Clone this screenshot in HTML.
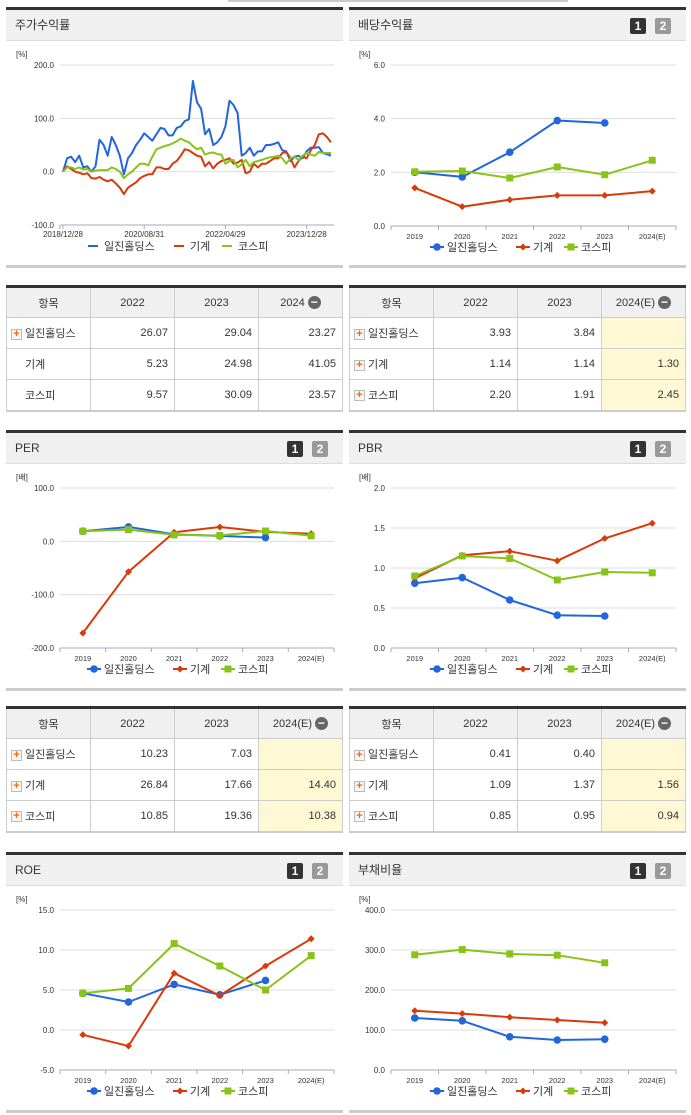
<!DOCTYPE html>
<html><head><meta charset="utf-8">
<style>
*{box-sizing:border-box;margin:0;padding:0}
body{width:691px;height:1115px;background:#fff;position:relative;overflow:hidden;font-family:"Liberation Sans","Noto Sans CJK KR",sans-serif;color:#333}
.panel{position:absolute;width:337px;height:261px;border-top:3px solid #333;border-bottom:3px solid #ccc}
.ph{height:31px;background:#f0f0f0;border-bottom:1px solid #ddd;font-size:12px;line-height:30px;padding-left:9px;color:#333}
.b1,.b2{position:absolute;top:8px;width:16px;height:16px;font-size:12px;font-weight:bold;color:#fff;text-align:center;line-height:16px;border-radius:2px}
.b1{right:40px;background:#333}.b2{right:15px;background:#999}
svg.ch{position:absolute;left:0;top:32px}
table{position:absolute;width:337px;border-collapse:collapse;border-top:3px solid #333;border-bottom:2px solid #ccc;font-size:11px}
td,th{border:1px solid #ccc;height:31px;font-weight:normal;vertical-align:middle}
th{background:#f0f0f0;text-align:center}
td{text-align:right;padding-right:6px}
td.n{text-align:left;padding-left:4px}
th.y{background:#f0f0f0}
td.y{background:#fef9d4}
.pl{display:inline-block;width:11px;height:11px;border:1px solid #bbb;background:#f6f6f6;color:#f60;font-size:11px;line-height:9px;text-align:center;vertical-align:middle;margin-right:3px;font-weight:bold}
.hw{display:inline-flex;align-items:center;gap:3px}
.mi{display:inline-block;width:13px;height:13px;border-radius:50%;background:#666;color:#fff;font-size:12px;line-height:12px;text-align:center;font-weight:bold}
</style></head><body>
<div style="position:absolute;left:228px;top:0;width:340px;height:2px;background:#ccc"></div>

<div class="panel" style="left:6px;top:7px"><div class="ph">주가수익률</div><svg class="ch" id="c0" width="337" height="226"></svg></div>
<div class="panel" style="left:349px;top:7px"><div class="ph">배당수익률</div><div class="b1">1</div><div class="b2">2</div><svg class="ch" id="c1" width="337" height="226"></svg></div>

<table style="left:6px;top:285px">
<tr><th style="width:84px">항목</th><th style="width:84px">2022</th><th style="width:84px">2023</th><th><span class="hw">2024<span class="mi">−</span></span></th></tr>
<tr><td class="n"><span class="pl">+</span>일진홀딩스</td><td>26.07</td><td>29.04</td><td>23.27</td></tr>
<tr><td class="n" style="padding-left:18px">기계</td><td>5.23</td><td>24.98</td><td>41.05</td></tr>
<tr><td class="n" style="padding-left:18px">코스피</td><td>9.57</td><td>30.09</td><td>23.57</td></tr>
</table>
<table style="left:349px;top:285px">
<tr><th style="width:84px">항목</th><th style="width:84px">2022</th><th style="width:84px">2023</th><th class="y"><span class="hw">2024(E)<span class="mi">−</span></span></th></tr>
<tr><td class="n"><span class="pl">+</span>일진홀딩스</td><td>3.93</td><td>3.84</td><td class="y"></td></tr>
<tr><td class="n"><span class="pl">+</span>기계</td><td>1.14</td><td>1.14</td><td class="y">1.30</td></tr>
<tr><td class="n"><span class="pl">+</span>코스피</td><td>2.20</td><td>1.91</td><td class="y">2.45</td></tr>
</table>

<div class="panel" style="left:6px;top:430px"><div class="ph">PER</div><div class="b1">1</div><div class="b2">2</div><svg class="ch" id="c2" width="337" height="226"></svg></div>
<div class="panel" style="left:349px;top:430px"><div class="ph">PBR</div><div class="b1">1</div><div class="b2">2</div><svg class="ch" id="c3" width="337" height="226"></svg></div>

<table style="left:6px;top:706px">
<tr><th style="width:84px">항목</th><th style="width:84px">2022</th><th style="width:84px">2023</th><th class="y"><span class="hw">2024(E)<span class="mi">−</span></span></th></tr>
<tr><td class="n"><span class="pl">+</span>일진홀딩스</td><td>10.23</td><td>7.03</td><td class="y"></td></tr>
<tr><td class="n"><span class="pl">+</span>기계</td><td>26.84</td><td>17.66</td><td class="y">14.40</td></tr>
<tr><td class="n"><span class="pl">+</span>코스피</td><td>10.85</td><td>19.36</td><td class="y">10.38</td></tr>
</table>
<table style="left:349px;top:706px">
<tr><th style="width:84px">항목</th><th style="width:84px">2022</th><th style="width:84px">2023</th><th class="y"><span class="hw">2024(E)<span class="mi">−</span></span></th></tr>
<tr><td class="n"><span class="pl">+</span>일진홀딩스</td><td>0.41</td><td>0.40</td><td class="y"></td></tr>
<tr><td class="n"><span class="pl">+</span>기계</td><td>1.09</td><td>1.37</td><td class="y">1.56</td></tr>
<tr><td class="n"><span class="pl">+</span>코스피</td><td>0.85</td><td>0.95</td><td class="y">0.94</td></tr>
</table>

<div class="panel" style="left:6px;top:852px"><div class="ph">ROE</div><div class="b1">1</div><div class="b2">2</div><svg class="ch" id="c4" width="337" height="226"></svg></div>
<div class="panel" style="left:349px;top:852px"><div class="ph">부채비율</div><div class="b1">1</div><div class="b2">2</div><svg class="ch" id="c5" width="337" height="226"></svg></div>

<script>
const seriesNames=["일진홀딩스","기계","코스피"];
const years=["2019","2020","2021","2022","2023","2024(E)"];
const retTicks=["2018/12/28","2020/08/31","2022/04/29","2023/12/28"];
const retTickIdx=[0,20,40,60];
const retIljin=[0,25,28,18,30,8,10,0,10,60,50,30,65,50,30,-5,25,35,50,60,72,65,58,70,82,80,68,68,82,85,95,98,170,130,118,70,80,50,55,65,85,133,125,110,30,35,45,30,38,38,50,50,52,55,40,38,20,28,30,25,38,45,45,46,35,33,30];
const retMach=[0,10,5,0,-2,-5,-3,-12,-13,-10,-15,-18,-15,-22,-30,-42,-30,-25,-20,-12,-8,-5,-5,8,8,5,5,15,20,30,42,40,35,30,28,10,18,6,15,20,22,25,15,17,22,-3,0,15,8,15,15,20,25,25,35,37,25,8,20,28,25,40,50,70,72,65,55];
const retKospi=[0,8,8,5,8,4,5,0,2,3,3,3,8,5,0,-12,-5,0,8,15,15,12,28,42,45,48,50,53,57,62,58,55,48,42,45,32,35,36,33,32,15,20,22,8,14,22,10,18,20,22,25,27,28,30,25,15,25,28,22,30,35,32,30,37,35,35,35];
const divIljin=[2.0,1.83,2.75,3.93,3.84,null];
const divMach=[1.42,0.72,0.98,1.14,1.14,1.30];
const divKospi=[2.02,2.05,1.79,2.20,1.91,2.45];
const perIljin=[19,27,13,10.23,7.03,null];
const perMach=[-172,-57,17,26.84,17.66,14.40];
const perKospi=[19,22,12,10.85,19.36,10.38];
const pbrIljin=[0.81,0.88,0.60,0.41,0.40,null];
const pbrMach=[0.87,1.16,1.21,1.09,1.37,1.56];
const pbrKospi=[0.90,1.15,1.12,0.85,0.95,0.94];
const roeIljin=[4.6,3.5,5.7,4.4,6.2,null];
const roeMach=[-0.6,-2.0,7.1,4.3,8.0,11.4];
const roeKospi=[4.6,5.2,10.8,8.0,5.0,9.3];
const debtIljin=[130,123,83,75,77,null];
const debtMach=[148,141,132,125,118,null];
const debtKospi=[288,301,290,287,268,null];
const colors=["#2266dd","#d83a0a","#88c418"];
const NS="http://www.w3.org/2000/svg";
function mk(svg,tag,at,txt){const e=document.createElementNS(NS,tag);for(const k in at)e.setAttribute(k,at[k]);if(txt!==undefined)e.textContent=txt;svg.appendChild(e);return e;}

function chart(id,o){
 const svg=document.getElementById(id);
 const L=o.L,R=o.R,T=o.T,B=o.B;
 const ys=v=>B-(v-o.min)/(o.max-o.min)*(B-T);
 const t=mk(svg,"text",{x:o.ux,y:T-8,"font-size":8,fill:"#333"},o.unit);
 
 for(let v=o.min;v<=o.max+1e-9;v+=o.step){
  const y=ys(v);
  if(v>o.min){const g=mk(svg,"line",{x1:L,x2:R,y1:y,y2:y,stroke:"#ddd"});}
  const lb=mk(svg,"text",{x:L-6,y:y+3,"font-size":8,"text-anchor":"end",fill:"#333"},v.toFixed(1));
  
 }
 const ax=mk(svg,"line",{x1:L,x2:R,y1:B,y2:B,stroke:"#aab"});
 let xs,n;
 if(o.cont){n=o.series[0].length;xs=i=>L+3+i*(R-L-6)/(n-1);
  retTickIdx.forEach((ix,k)=>{const x=xs(ix);mk(svg,"line",{x1:x,x2:x,y1:B,y2:B+4,stroke:"#aab"});
   const lb=mk(svg,"text",{x:x,y:B+12,"font-size":8,"text-anchor":"middle",fill:"#333"},retTicks[k]);
   });
  mk(svg,"line",{x1:L,x2:L,y1:B,y2:B+4,stroke:"#aab"});
 } else {n=years.length;const bw=(R-L)/n;xs=i=>L+bw*(i+0.5);
  for(let i=0;i<=n;i++)mk(svg,"line",{x1:L+bw*i,x2:L+bw*i,y1:B,y2:B+4,stroke:"#aab"});
  years.forEach((yv,i)=>{const lb=mk(svg,"text",{x:xs(i),y:B+13,"font-size":7.5,"text-anchor":"middle",fill:"#333"},yv);
   });
 }
 o.series.forEach((s,k)=>{
  let d="";s.forEach((v,i)=>{if(v===null)return;d+=(d?"L":"M")+xs(i).toFixed(1)+","+ys(v).toFixed(1);});
  const p=mk(svg,"path",{d:d,fill:"none",stroke:colors[k],"stroke-width":2,"stroke-linejoin":"round"});
  
  if(!o.cont)s.forEach((v,i)=>{if(v===null)return;marker(svg,k,xs(i),ys(v),'point-'+['iljin','machinery','kospi'][k]);});
 });
 const ly=B+25;const lx=[o.lgx,o.lgx+86,o.lgx+134];
 seriesNames.forEach((nm,k)=>{
  if(o.cont){mk(svg,"line",{x1:lx[k],x2:lx[k]+10,y1:ly-4,y2:ly-4,stroke:colors[k],"stroke-width":2});}
  else{mk(svg,"line",{x1:lx[k]-1,x2:lx[k]+13,y1:ly-4,y2:ly-4,stroke:colors[k],"stroke-width":2});marker(svg,k,lx[k]+6,ly-4,'legend-marker');}
  const t=mk(svg,"text",{x:lx[k]+16,y:ly,"font-size":11,fill:"#333"},nm);
  
 });
}
function marker(svg,k,x,y,name){
 let e;
 if(k===0)e=mk(svg,"circle",{cx:x,cy:y,r:3.8,fill:colors[0]});
 else if(k===1)e=mk(svg,"path",{d:`M${x},${y-3.5}L${x+3.5},${y}L${x},${y+3.5}L${x-3.5},${y}Z`,fill:colors[1]});
 else e=mk(svg,"rect",{x:x-3.5,y:y-3.5,width:7,height:7,fill:colors[2]});
 
}
chart("c0",{L:54,R:328,T:23,B:183,min:-100,max:200,step:100,unit:"[%]",ux:10,cont:true,lgx:82,series:[retIljin,retMach,retKospi]});
chart("c1",{L:42,R:327,T:23,B:184,min:0,max:6,step:2,unit:"[%]",ux:10,lgx:82,series:[divIljin,divMach,divKospi]});
chart("c2",{L:54,R:328,T:23,B:183,min:-200,max:100,step:100,unit:"[배]",ux:10,lgx:82,series:[perIljin,perMach,perKospi]});
chart("c3",{L:42,R:327,T:23,B:183,min:0,max:2,step:0.5,unit:"[배]",ux:10,lgx:82,series:[pbrIljin,pbrMach,pbrKospi]});
chart("c4",{L:54,R:328,T:23,B:183,min:-5,max:15,step:5,unit:"[%]",ux:10,lgx:82,series:[roeIljin,roeMach,roeKospi]});
chart("c5",{L:42,R:327,T:23,B:183,min:0,max:400,step:100,unit:"[%]",ux:10,lgx:82,series:[debtIljin,debtMach,debtKospi]});
</script>
</body></html>
